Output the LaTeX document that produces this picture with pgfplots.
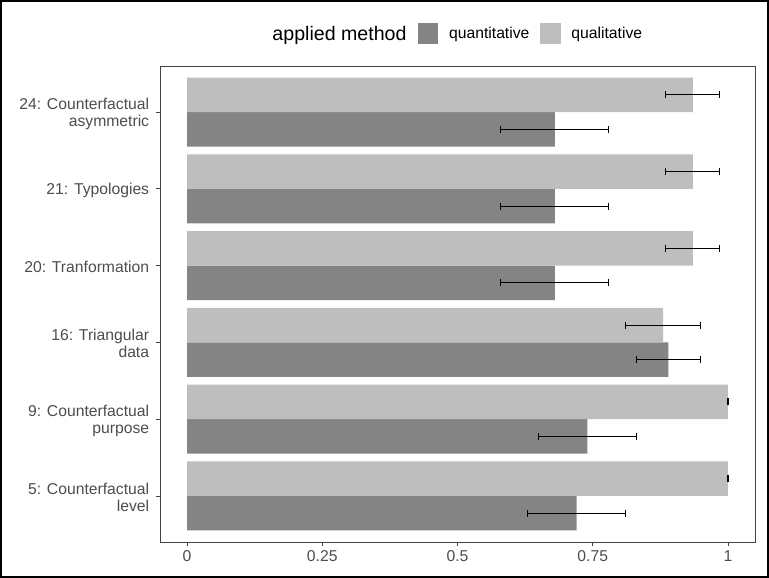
\documentclass[border=0pt]{standalone}
\usepackage{fontspec}
\setmainfont{Liberation Sans}
\usepackage{pgfplots}
\usepackage{pgfplotstable}
\pgfplotsset{compat=1.18}
\definecolor{darkbar}{HTML}{848484}
\definecolor{lightbar}{HTML}{BEBEBE}
\definecolor{axtext}{HTML}{4D4D4D}
\definecolor{axline}{HTML}{444444}

\pgfplotstableread{
x y e
0.72 0.775 0.09
0.74 1.775 0.09
0.89 2.775 0.06
0.68 3.775 0.10
0.68 4.775 0.10
0.68 5.775 0.10
}\quant
\pgfplotstableread{
x y e
1.00 1.225 0.0008
1.00 2.225 0.0008
0.88 3.225 0.07
0.935 4.225 0.05
0.935 5.225 0.05
0.935 6.225 0.05
}\qual

\begin{document}
\begin{tikzpicture}
\useasboundingbox (0,0) rectangle (769pt,578pt);
\draw[line width=2pt] (1pt,1pt) rectangle (768pt,577pt);
\node[anchor=base east, inner sep=0pt, font=\fontsize{19.6}{22}\selectfont] at (406.7pt,537pt) {applied method};
\begin{axis}[
  at={(160pt,36pt)}, anchor=south west,
  scale only axis, width=595pt, height=476pt,
  xmin=-0.05, xmax=1.05, ymin=0.4, ymax=6.6,
  xbar, bar width=0.45, bar shift=0pt,
  axis line style={draw=axline, line width=0.7pt},
  xtick={0,0.25,0.5,0.75,1}, xticklabels={0,0.25,0.5,0.75,1},
  ytick={1,2,3,4,5,6},
  yticklabels={{5: Counterfactual\\level},{9: Counterfactual\\purpose},{16: Triangular\\data},{20: Tranformation},{21: Typologies},{24: Counterfactual\\asymmetric}},
  tick align=outside, tick pos=left, major tick length=3.7pt,
  tick style={axline, line width=0.7pt},
  /pgf/number format/assume math mode=true,
  ticklabel style={font=\fontsize{15.7}{17}\selectfont, text=axtext, inner sep=0pt},
  yticklabel style={align=right, xshift=-7pt, yshift=-1.5pt},
  xticklabel style={yshift=-5pt},
  legend columns=2,
  legend style={at={(axis description cs:0.433,1.0687)}, anchor=west, draw=none, fill=none, inner sep=0pt,
     font=\fontsize{15.7}{17}\selectfont, nodes={inner sep=0pt},
     /tikz/every even column/.append style={column sep=10.7pt}},
]
\addplot[fill=darkbar, draw=none,
  legend image code/.code={\fill[darkbar] (0pt,-10.3pt) rectangle (20.6pt,10.3pt); \path (31.3pt,0pt);},
  error bars/.cd, x dir=both, x explicit, error mark=|,
  error bar style={black, line width=1pt},
  error mark options={black, line width=1pt, mark size=3.5pt}]
  table[x=x, y=y, x error=e] {\quant};
\addlegendentry{quantitative}
\addplot[fill=lightbar, draw=none,
  legend image code/.code={\fill[lightbar] (0pt,-10.3pt) rectangle (20.6pt,10.3pt); \path (31.3pt,0pt);},
  error bars/.cd, x dir=both, x explicit, error mark=|,
  error bar style={black, line width=1pt},
  error mark options={black, line width=1pt, mark size=3.5pt}]
  table[x=x, y=y, x error=e] {\qual};
\addlegendentry{qualitative}
\end{axis}
\end{tikzpicture}
\end{document}
